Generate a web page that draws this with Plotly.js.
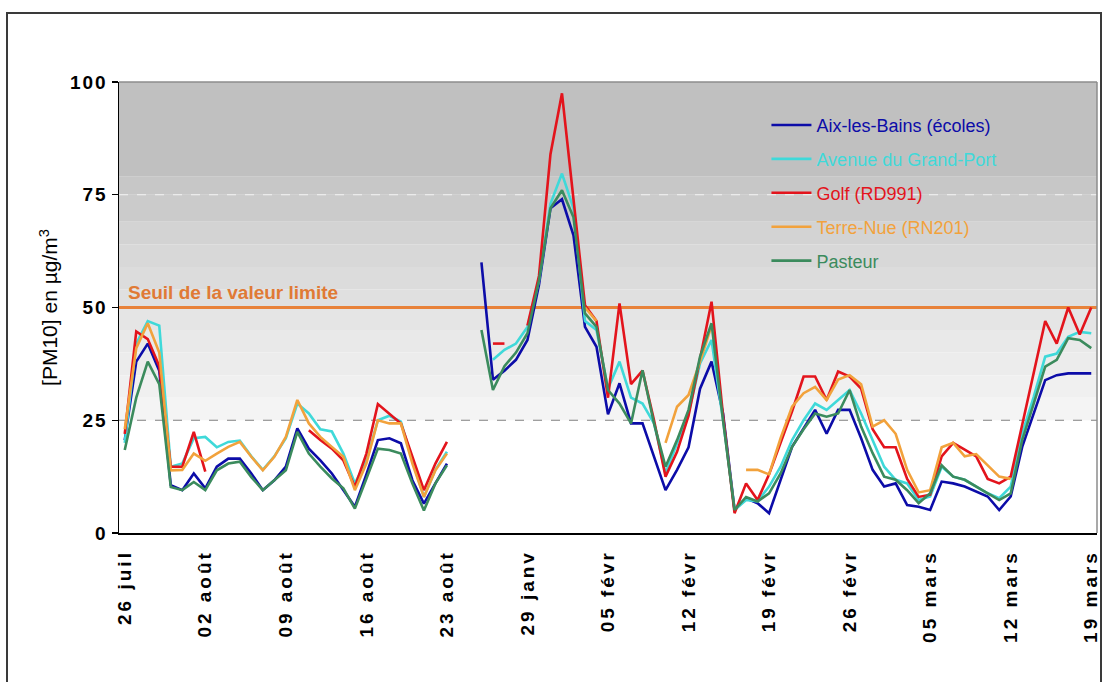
<!DOCTYPE html>
<html>
<head>
<meta charset="utf-8">
<script src="https://cdn.plot.ly/plotly-3.0.1.min.js"></script>
<style>
  html, body { margin: 0; padding: 0; background: #ffffff; overflow: hidden; }
  #wrap { position: relative; width: 1104px; height: 682px; }
  #chart { position: absolute; left: 0; top: 0; width: 1104px; height: 682px; }
  #frame { position: absolute; left: 6px; top: 12px; width: 1092px; height: 700px;
           border: 2px solid #3a3a3a; pointer-events: none; }
  #chart .xtick text { letter-spacing: 3px; }
  #chart .ytick text { letter-spacing: 2px; }
</style>
</head>
<body>
<div id="wrap"><div id="chart"></div><div id="frame"></div></div>
<script>
// Day categories (summer then winter period)
const categories = [
  "26 juil","27 juil","28 juil","29 juil","30 juil","31 juil",
  "01 août","02 août","03 août","04 août","05 août","06 août","07 août","08 août","09 août","10 août",
  "11 août","12 août","13 août","14 août","15 août","16 août","17 août","18 août","19 août","20 août",
  "21 août","22 août","23 août","24 août","25 août",
  "25 janv","26 janv","27 janv","28 janv","29 janv","30 janv","31 janv",
  "01 févr","02 févr","03 févr","04 févr","05 févr","06 févr","07 févr","08 févr","09 févr","10 févr",
  "11 févr","12 févr","13 févr","14 févr","15 févr","16 févr","17 févr","18 févr","19 févr","20 févr",
  "21 févr","22 févr","23 févr","24 févr","25 févr","26 févr","27 févr","28 févr",
  "01 mars","02 mars","03 mars","04 mars","05 mars","06 mars","07 mars","08 mars","09 mars","10 mars",
  "11 mars","12 mars","13 mars","14 mars","15 mars","16 mars","17 mars","18 mars","19 mars"
];

const tickLabels = ["26 juil","02 août","09 août","16 août","23 août","29 janv","05 févr",
                    "12 févr","19 févr","26 févr","05 mars","12 mars","19 mars"];

const aixLesBains = [
  20.6,38,42,36,10.6,9.5,13.2,9.9,14.7,16.5,16.5,13.2,9.5,11.7,14.7,23.2,18.7,16.1,13.2,9.5,
  5.8,13,20.6,21,19.9,11.7,6.5,11,15.4,null,null,
  60,34,36,38.4,42.8,55,72,74,66,45.7,41.3,26.3,33.2,24.3,24.3,17,9.5,14,19,32,38,26.5,5.1,7.7,6.6,
  4.4,11.8,19.1,23.2,27.3,22,27.3,27.3,21,14,10.3,11,6.2,5.8,5.1,11.4,11,10.3,9.2,8.1,5.1,8.1,
  19.1,26.5,33.9,35,35.4,35.4,35.4
];

const avenueGrandPort = [
  20,42,47,46,14.7,15.4,21,21.3,19,20.2,20.5,17,14,17,21,28.7,26.5,23,22.5,17.6,
  11,16,25,26,24.7,16,8,14,18,null,null,
  null,38.4,40.6,42,45.7,56,73,79.7,72,47,45,32,38,30,28.7,24.3,13.2,19.9,26.5,37.6,42.8,25,5.1,7.3,7,
  10.3,14.7,20.6,25,28.7,27.3,29.5,31.7,26.5,20.6,14.7,11.8,11,7.3,8.1,14.7,12.5,11.8,10.3,8.8,7.7,10.3,
  22.1,30.2,39.1,39.8,43.5,44.6,44.3
];

const golfRD991 = [
  22,44.7,43,37,14.7,14.7,22.4,13.6,null,null,null,null,null,null,null,null,22.8,20.6,18.7,16.1,
  10.2,17.6,28.6,26.5,24.3,16.9,9.5,15.4,20.2,null,null,
  null,42,42,null,46,57,84,97.5,74,50.5,47,30,50.9,33,36,25,12.5,18,26,38.4,51.3,26,4.4,11,7.3,
  13,20,27,34.7,34.7,29.5,35.8,34.7,32,23,19,19,12,8,8.5,17,20,18.5,17,12,11,12.5,
  24,36,47,42,50,44,50
];

const terreNueRN201 = [
  23,41,46.5,40,13.9,14,17.6,16,17.6,19.1,20.2,16.9,13.9,16.9,21.3,29.5,24.3,21.3,19.1,16.9,
  9.5,15.4,25,24.3,24.3,15.4,8,13.9,17.6,null,null,
  null,null,null,null,null,null,null,null,null,50,47,null,null,null,null,null,20,28,30.6,38,46,null,null,14,14,
  13,21,28,31,32.4,29.5,34,35,33,23.6,25,22,14,9,9.5,19,20,17,17.5,15,12.5,12,
  null,null,null,null,null,null,null
];

const pasteur = [
  18.4,30,38,33,10.2,9.5,11.3,9.5,13.9,15.4,15.8,12.4,9.5,11.7,13.9,22.4,17.6,14.7,12.1,9.9,
  5.4,12,18.7,18.4,17.6,11,5,11,15,null,null,
  45,31.7,37,40,44.3,56,72,76,70,48.7,45.7,31.7,28.7,24.3,36.1,24.3,14.7,20.6,27.3,39.1,46.5,25,5.1,8,7,
  8.8,13.2,19.1,23,26.5,25.8,26.5,31.7,23.6,17.7,12.5,11.8,9.5,6.6,8.8,15,12.5,11.8,10.3,8.8,7.3,8.8,
  20.6,28.7,36.9,38.4,43.2,42.8,41
];

const seriesNames = ["Aix-les-Bains (écoles)","Avenue du Grand-Port","Golf (RD991)","Terre-Nue (RN201)","Pasteur"];
const seriesData = [aixLesBains, avenueGrandPort, golfRD991, terreNueRN201, pasteur];
const seriesColors = ["#0c0ca8","#3fd9d9","#e3141c","#f2a23c","#3b8b5d"];
const limitValue = 50;
const limitLabel = "Seuil de la valeur limite";

const FONT = "Liberation Sans, Arial, sans-serif";

const traces = seriesData.map((vals, k) => ({
  type: "scatter",
  mode: "lines",
  x: categories,
  y: vals,
  name: '<span style="color:' + seriesColors[k] + '">' + seriesNames[k] + '</span>',
  legendgroup: "g" + k,
  line: { color: seriesColors[k], width: 2.6 },
  connectgaps: false,
  hoverinfo: "skip"
}));

// grey background bands (styling)
const bands = [
  [79,100,"#c0c0c0"],[75,79,"#c7c7c7"],[69,75,"#cbcbcb"],[64,69,"#d3d3d3"],
  [59,64,"#d8d8d8"],[54,59,"#dcdcdc"],[50,54,"#e0e0e0"],[45,50,"#e5e5e5"],
  [40,45,"#e9e9e9"],[35,40,"#ececec"],[30,35,"#f0f0f0"],[25,30,"#f4f4f4"]
];
const shapes = bands.map(b => ({
  type: "rect", xref: "paper", yref: "y", x0: 0, x1: 1, y0: b[0], y1: b[1],
  fillcolor: b[2], line: { width: 0 }, layer: "below"
}));
shapes.push({ type: "line", xref: "paper", yref: "y", x0: 0, x1: 1, y0: 75, y1: 75,
  line: { color: "#f4f4f4", width: 1.2, dash: "dash" }, layer: "below" });
shapes.push({ type: "line", xref: "paper", yref: "y", x0: 0, x1: 1, y0: 25, y1: 25,
  line: { color: "#808080", width: 1.2, dash: "dash" }, layer: "below" });
shapes.push({ type: "line", xref: "paper", yref: "y", x0: 0, x1: 1, y0: limitValue, y1: limitValue,
  line: { color: "#e8823a", width: 3.2 }, layer: "below" });
// top / right frame of plot area
shapes.push({ type: "line", xref: "paper", yref: "paper", x0: 0, x1: 1, y0: 1, y1: 1,
  line: { color: "#8c8c8c", width: 1.5 } });
shapes.push({ type: "line", xref: "paper", yref: "paper", x0: 1, x1: 1, y0: 0, y1: 1,
  line: { color: "#8c8c8c", width: 1.5 } });

const layout = {
  width: 1104, height: 682,
  margin: { l: 119, r: 7, t: 82, b: 149 },
  paper_bgcolor: "rgba(0,0,0,0)",
  plot_bgcolor: "#ffffff",
  showlegend: true,
  legend: {
    x: 0.662, y: 0.945, xanchor: "left", yanchor: "top",
    bgcolor: "rgba(0,0,0,0)", borderwidth: 0,
    font: { family: FONT, size: 18, color: "#000" },
    itemwidth: 40, tracegroupgap: 7.5, traceorder: "grouped"
  },
  xaxis: {
    type: "category",
    categoryorder: "array", categoryarray: categories,
    range: [-0.5, categories.length - 0.5],
    tickmode: "array", tickvals: tickLabels, ticktext: tickLabels,
    tickangle: -90,
    tickfont: { family: FONT, size: 19, color: "#000", weight: "bold" },
    ticklabelstandoff: 8,
    showgrid: false, zeroline: false,
    showline: true, linecolor: "#000", linewidth: 1.5,
    ticks: "", fixedrange: true
  },
  yaxis: {
    range: [0, 100],
    tickvals: [0, 25, 50, 75, 100],
    tickfont: { family: FONT, size: 19, color: "#000", weight: "bold" },
    ticks: "outside", ticklen: 6, tickcolor: "#000", tickwidth: 1.2,
    showgrid: false, zeroline: false,
    showline: true, linecolor: "#000", linewidth: 1.5,
    title: { text: "[PM10] en µg/m<sup>3</sup>", font: { family: FONT, size: 21, color: "#000" }, standoff: 12 },
    fixedrange: true
  },
  shapes: shapes,
  annotations: [{
    xref: "paper", yref: "y", x: 0.007, y: limitValue, xanchor: "left", yanchor: "bottom",
    yshift: 3, showarrow: false, text: limitLabel,
    font: { family: FONT, size: 19, color: "#e07a35", weight: "bold" }
  }]
};

Plotly.newPlot("chart", traces, layout, { displayModeBar: false, staticPlot: true });
</script>
</body>
</html>
